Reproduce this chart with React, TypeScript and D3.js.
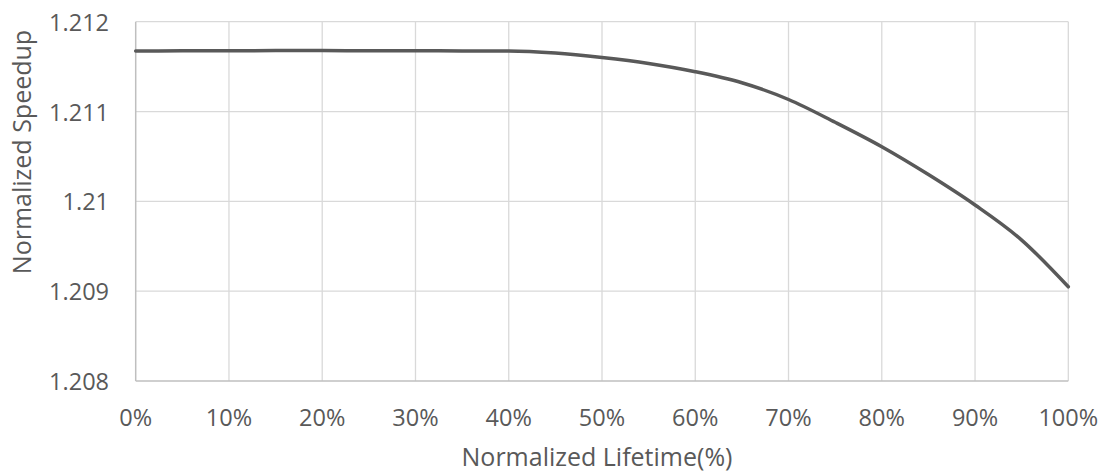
import React from "react";
import * as d3 from "d3";

const lifetime = [0, 5, 10, 15, 20, 25, 30, 35, 40, 45, 50, 55, 60, 65, 70, 75, 80, 85, 90, 95, 100];
const speedup = [
  1.211674, 1.211676, 1.211677, 1.211678, 1.211678, 1.211677, 1.211676, 1.211675, 1.211674, 1.211651,
  1.211601, 1.211535, 1.211443, 1.21132, 1.211134, 1.21088, 1.210608, 1.210298, 1.209959, 1.209569, 1.209049,
];
const yTicks = [1.208, 1.209, 1.21, 1.211, 1.212];
const yTickLabels = ["1.208", "1.209", "1.21", "1.211", "1.212"];
const xTicks = [0, 10, 20, 30, 40, 50, 60, 70, 80, 90, 100];
const xTitle = "Normalized Lifetime(%)";
const yTitle = "Normalized Speedup";

const W = 1100;
const H = 474;
const left = 135.7;
const right = 1068.3;
const top = 21.7;
const bottom = 381;
const font = "'Open Sans', Lato, sans-serif";
const textColor = "#595959";

export default function App() {
  const x = d3.scaleLinear().domain([0, 100]).range([left, right]);
  const y = d3.scaleLinear().domain([1.208, 1.212]).range([bottom, top]);
  const line = d3
    .line<number>()
    .x((_, i) => x(lifetime[i]))
    .y((d) => y(d))
    .curve(d3.curveMonotoneX);

  return (
    <svg
      width={W}
      height={H}
      style={{ position: "absolute", left: 0, top: 0, display: "block", background: "#fff" }}
    >
      {xTicks.map((t) =>
        t === 0 ? null : (
          <line key={"vx" + t} x1={x(t)} x2={x(t)} y1={top} y2={bottom} stroke="#d9d9d9" strokeWidth={1.3} />
        )
      )}
      {yTicks.map((t) =>
        t === 1.208 ? null : (
          <line key={"hy" + t} x1={left} x2={right} y1={y(t)} y2={y(t)} stroke="#d9d9d9" strokeWidth={1.3} />
        )
      )}
      <line x1={left} x2={left} y1={top} y2={bottom} stroke="#bfbfbf" strokeWidth={1.5} />
      <line x1={left} x2={right} y1={bottom} y2={bottom} stroke="#bfbfbf" strokeWidth={1.5} />
      <path d={line(speedup) || ""} fill="none" stroke="#595959" strokeWidth={3.5} strokeLinecap="round" />
      {yTicks.map((t, i) => (
        <text
          key={"yl" + t}
          x={109}
          y={y(t)}
          textAnchor="end"
          dominantBaseline="central"
          fontFamily={font}
          fontSize={23.5}
          fill={textColor}
        >
          {yTickLabels[i]}
        </text>
      ))}
      {xTicks.map((t) => (
        <text
          key={"xl" + t}
          x={x(t)}
          y={417}
          textAnchor="middle"
          dominantBaseline="central"
          fontFamily={font}
          fontSize={23.5}
          fill={textColor}
        >
          {t + "%"}
        </text>
      ))}
      <text
        x={597}
        y={466}
        textAnchor="middle"
        fontFamily={font}
        fontSize={25}
        fill={textColor}
      >
        {xTitle}
      </text>
      <text
        transform={`translate(21,152) rotate(-90)`}
        textAnchor="middle"
        dominantBaseline="central"
        fontFamily={font}
        fontSize={25}
        fill={textColor}
      >
        {yTitle}
      </text>
    </svg>
  );
}
